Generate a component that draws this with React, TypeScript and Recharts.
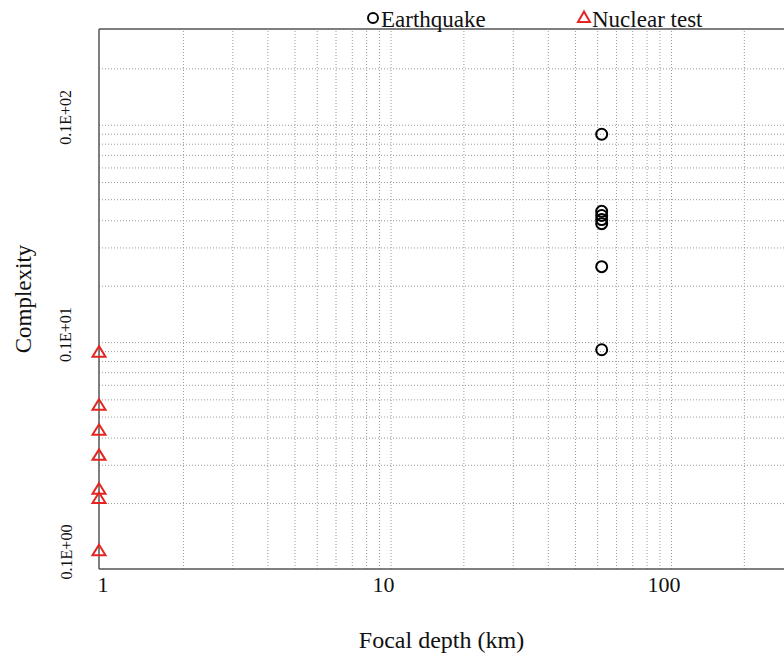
import { ScatterChart, Scatter, XAxis, YAxis, ReferenceLine, Label } from "recharts";

// focal depth (km) and complexity
const earthquakeDepth = [62, 62, 62, 62, 62, 62, 62];
const earthquakeComplexity = [10.0, 4.42, 4.23, 4.05, 3.88, 2.46, 1.02];
const nuclearDepth = [1, 1, 1, 1, 1, 1, 1];
const nuclearComplexity = [1.0, 0.57, 0.437, 0.335, 0.234, 0.212, 0.122];

const xTicks = [1, 10, 100];
const yTicks = [0.1, 1, 10];
const yTickLabels = ["0.1E+00", "0.1E+01", "0.1E+02"];

const xGrid = [2, 3, 4, 5, 6, 7, 8, 9, 10, 11, 20, 30, 40, 50, 60, 70, 80, 90, 100, 110, 200];
const yGrid = [0.2, 0.3, 0.4, 0.5, 0.6, 0.7, 0.8, 0.9, 1, 1.1, 2, 3, 4, 5, 6, 7, 8, 9, 10, 11, 20];

const xDomain = [1, 277];
const yDomain = [0.1, 30.5];

const FONT = "'Liberation Serif', 'Times New Roman', serif";
const RED = "#e52521";

const earthquakes = earthquakeDepth.map((x, i) => ({ x, y: earthquakeComplexity[i] }));
const nuclear = nuclearDepth.map((x, i) => ({ x, y: nuclearComplexity[i] }));

const Circle = (props: any) => (
  <circle cx={props.cx} cy={props.cy} r={5.5} fill="none" stroke="#000" strokeWidth={2} />
);

const Triangle = (props: any) => {
  const { cx, cy } = props;
  return (
    <path
      d={`M${cx},${cy - 5.5}L${cx + 6.5},${cy + 5}L${cx - 6.5},${cy + 5}Z`}
      fill="none"
      stroke={RED}
      strokeWidth={2}
    />
  );
};

const XTick = (props: any) => (
  <text x={props.x + 4} y={props.y + 15} textAnchor="middle" fontFamily={FONT} fontSize={22} fill="#111">
    {props.payload.value}
  </text>
);

const YTick = (props: any) => {
  const idx = yTicks.indexOf(props.payload.value);
  const cx = 66;
  const cy = props.y - 17;
  return (
    <text
      x={cx}
      y={cy}
      transform={`rotate(-90, ${cx}, ${cy})`}
      textAnchor="middle"
      dominantBaseline="central"
      fontFamily={FONT}
      fontSize={16}
      fill="#111"
    >
      {yTickLabels[idx]}
    </text>
  );
};

export default function App() {
  return (
    <div style={{ position: "absolute", left: 0, top: 0, width: 784, height: 657, background: "#fff" }}>
      <ScatterChart width={784} height={657} margin={{ top: 29, right: 0, bottom: 0, left: 0 }}>
        <XAxis
          type="number"
          dataKey="x"
          scale="log"
          domain={xDomain}
          ticks={xTicks}
          tick={<XTick />}
          tickLine={false}
          axisLine={{ stroke: "#555", strokeWidth: 1.5 }}
          height={88}
        >
          <Label
            value="Focal depth (km)"
            position="insideBottom"
            offset={9}
            style={{ fontFamily: FONT, fontSize: 24, fill: "#111" }}
          />
        </XAxis>
        <YAxis
          type="number"
          dataKey="y"
          scale="log"
          domain={yDomain}
          ticks={yTicks}
          tick={<YTick />}
          tickLine={false}
          axisLine={{ stroke: "#555", strokeWidth: 1.5 }}
          width={99}
        >
          <Label
            value="Complexity"
            angle={-90}
            position="insideLeft"
            offset={23}
            style={{ fontFamily: FONT, fontSize: 23, fill: "#111", textAnchor: "middle" }}
          />
        </YAxis>
        {xGrid.map((v) => (
          <ReferenceLine key={"x" + v} x={v} stroke="#9a9a9a" strokeDasharray="1 2" />
        ))}
        {yGrid.map((v) => (
          <ReferenceLine key={"y" + v} y={v} stroke="#9a9a9a" strokeDasharray="1 2" />
        ))}
        <ReferenceLine y={yDomain[1]} stroke="#555" strokeWidth={1.5} />
        <Scatter name="Earthquake" data={earthquakes} shape={<Circle />} isAnimationActive={false} />
        <Scatter name="Nuclear test" data={nuclear} shape={<Triangle />} isAnimationActive={false} />
      </ScatterChart>
      <svg width={784} height={40} style={{ position: "absolute", left: 0, top: 0 }}>
        <circle cx={373} cy={18} r={5} fill="none" stroke="#000" strokeWidth={2} />
        <text x={381} y={27} fontFamily={FONT} fontSize={23} fill="#111">Earthquake</text>
        <path d="M584,11.5L590,22L578,22Z" fill="none" stroke={RED} strokeWidth={2} />
        <text x={592} y={27} fontFamily={FONT} fontSize={23} fill="#111">Nuclear test</text>
      </svg>
    </div>
  );
}
